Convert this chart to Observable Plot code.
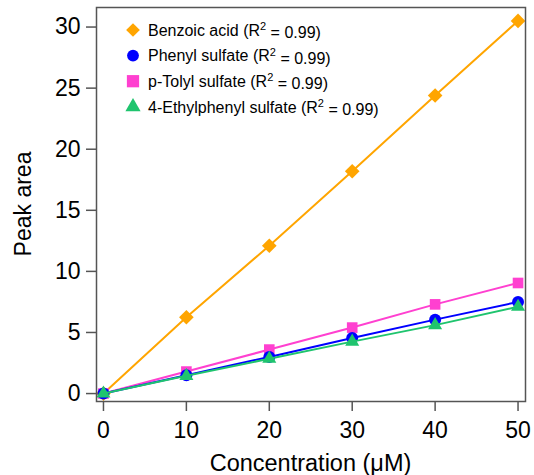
<!DOCTYPE html>
<html>
<head>
<meta charset="utf-8">
<script src="https://cdn.jsdelivr.net/npm/d3@7"></script>
<script src="https://cdn.jsdelivr.net/npm/@observablehq/plot@0.6"></script>
<style>
  html, body { margin: 0; padding: 0; background: #fff; }
  #chart { position: relative; width: 534px; height: 475px; }
</style>
</head>
<body>
<div id="chart"></div>
<script>
const concentration = [0, 10, 20, 30, 40, 50];
const benzoicAcid = [0, 6.25, 12.1, 18.2, 24.4, 30.5];
const phenylSulfate = [0, 1.5, 3.0, 4.55, 6.05, 7.5];
const pTolylSulfate = [0, 1.8, 3.6, 5.4, 7.3, 9.05];
const ethylphenylSulfate = [0, 1.45, 2.85, 4.25, 5.6, 7.1];
const seriesNames = ["Benzoic acid", "Phenyl sulfate", "p-Tolyl sulfate", "4-Ethylphenyl sulfate"];
const r2Labels = ["0.99", "0.99", "0.99", "0.99"];
const colors = ["#FFA500", "#0000FF", "#FF40D0", "#1FC46E"];
const symbols = ["diamond2", "circle", "square", "triangle"];
const xTicks = [0, 10, 20, 30, 40, 50];
const yTicks = [0, 5, 10, 15, 20, 25, 30];

const seriesValues = [benzoicAcid, phenylSulfate, pTolylSulfate, ethylphenylSulfate];
const data = seriesNames.flatMap((name, i) =>
  concentration.map((c, j) => ({series: name, idx: i, x: c, y: seriesValues[i][j]})));
const drawOrder = [0, 2, 1, 3];

const marks = [];
for (const i of drawOrder) {
  const d = data.filter(e => e.idx === i);
  marks.push(Plot.line(d, {x: "x", y: "y", stroke: colors[i], strokeWidth: 2}));
  marks.push(Plot.dot(d, {x: "x", y: "y", fill: colors[i], stroke: "none",
    symbol: () => symbols[i], r: i === 0 ? 6.6 : (i === 3 ? 5.2 : 6)}));
}

const FONT = "'Liberation Sans', Arial, sans-serif";
const plot = Plot.plot({
  width: 534, height: 475,
  marginLeft: 96, marginRight: 9, marginTop: 7, marginBottom: 74,
  style: {fontFamily: FONT, fontSize: "23px", color: "#000", background: "#fff"},
  x: {domain: [-0.84, 50.9]},
  y: {domain: [-0.65, 31.6]},
  symbol: {type: "identity"},
  marks: [
    ...marks,
    Plot.frame({stroke: "#555", strokeWidth: 1.5}),
    Plot.axisX({ticks: xTicks, tickSize: 10, tickPadding: 10, stroke: "#555", strokeWidth: 1.5, fill: "#000",
      fontSize: 23, label: null}),
    Plot.axisY({ticks: yTicks, tickSize: 10, tickPadding: 6, stroke: "#555", strokeWidth: 1.5, fill: "#000",
      fontSize: 23, label: null})
  ]
});
document.getElementById("chart").appendChild(plot);

const svg = d3.select(plot);
// axis titles
svg.append("text")
  .attr("x", (96 + 525) / 2).attr("y", 471)
  .attr("text-anchor", "middle").attr("font-family", FONT).attr("font-size", 23.5).attr("fill", "#000")
  .text("Concentration (μM)");
svg.append("text")
  .attr("transform", "translate(31,204) rotate(-90)")
  .attr("text-anchor", "middle").attr("font-family", FONT).attr("font-size", 23).attr("fill", "#000")
  .text("Peak area");

// legend inside plot area
const lg = svg.append("g").attr("font-family", FONT).attr("font-size", 16).attr("text-anchor", "start");
const symMap = {diamond2: d3.symbolDiamond2, circle: d3.symbolCircle, square: d3.symbolSquare, triangle: d3.symbolTriangle};
const legSizes = [120, 110, 150, 100];
seriesNames.forEach((name, i) => {
  const cy = 30 + i * 25.6;
  lg.append("path")
    .attr("d", d3.symbol(symMap[symbols[i]], legSizes[i])())
    .attr("transform", `translate(133,${cy})`)
    .attr("fill", colors[i]);
  const t = lg.append("text").attr("x", 148).attr("y", cy).attr("dy", "0.36em").attr("fill", "#000")
    .attr("text-anchor", "start");
  t.append("tspan").text(`${name} (R`);
  t.append("tspan").attr("dy", "-0.5em").attr("font-size", 11).text("2");
  t.append("tspan").attr("dy", "0.5em").text(` = ${r2Labels[i]})`);
});
</script>
</body>
</html>
